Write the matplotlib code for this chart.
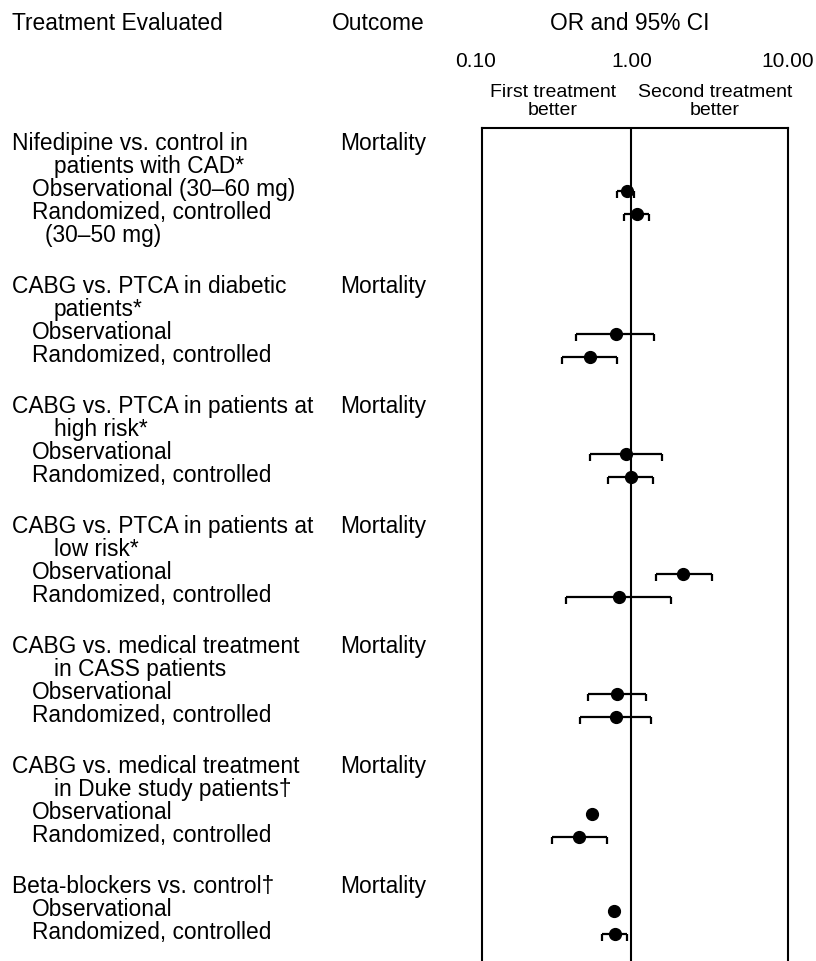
import matplotlib
matplotlib.use('Agg')
import matplotlib.pyplot as plt
import matplotlib.transforms as mtransforms
import numpy as np

plt.rcParams['font.family'] = ['Liberation Sans', 'DejaVu Sans']

# --- data ---
titles = [
    ['Nifedipine vs. control in', 'patients with CAD*'],
    ['CABG vs. PTCA in diabetic', 'patients*'],
    ['CABG vs. PTCA in patients at', 'high risk*'],
    ['CABG vs. PTCA in patients at', 'low risk*'],
    ['CABG vs. medical treatment', 'in CASS patients'],
    ['CABG vs. medical treatment', 'in Duke study patients\u2020'],
    ['Beta-blockers vs. control\u2020'],
]
outcomes = ['Mortality'] * 7
obs_labels = ['Observational (30\u201360 mg)'] + ['Observational'] * 6
rct_labels = [['Randomized, controlled', '(30\u201350 mg)']] + [['Randomized, controlled']] * 6

nan = np.nan
obs_or = [0.94, 0.79, 0.92, 2.15, 0.81, 0.56, 0.77]
obs_lo = [0.81, 0.44, 0.54, 1.43, 0.53, nan, nan]
obs_hi = [1.04, 1.40, 1.56, 3.30, 1.23, nan, nan]
rct_or = [1.08, 0.54, 0.99, 0.83, 0.79, 0.46, 0.78]
rct_lo = [0.90, 0.36, 0.71, 0.38, 0.47, 0.31, 0.65]
rct_hi = [1.29, 0.81, 1.38, 1.80, 1.34, 0.70, 0.93]

tick_vals = [0.1, 1.0, 10.0]
tick_text = ['0.10', '1.00', '10.00']

# --- layout ---
W, H = 816, 961
fig = plt.figure(figsize=(W / 100, H / 100), dpi=100)
bg = fig.add_axes([0, 0, 1, 1])
bg.set_xlim(0, W)
bg.set_ylim(H, 0)
bg.axis('off')

ax = fig.add_axes([482 / W, 0, (788 - 482) / W, (H - 128) / H])
ax.set_xscale('log')
ax.set_xlim(10 ** -0.958, 10 ** 1.003)
ax.set_ylim(H, 128)
ax.patch.set_alpha(0)
ax.set_xticks([])
ax.set_yticks([])
ax.minorticks_off()
ax.tick_params(which='both', length=0, labelbottom=False, labelleft=False)
ax.spines['bottom'].set_visible(False)
for s in ['left', 'right', 'top']:
    ax.spines[s].set_linewidth(1.5)
ax.axvline(1.0, color='black', lw=1.5)

fs = 16.4
LH = 23
GAP = 28
x_head, x_cont, x_sub, x_sub2 = 12, 54, 32, 45
x_out = 340

y = 150
obs_y, rct_y = [], []
for i in range(len(titles)):
    for j, t in enumerate(titles[i]):
        bg.text(x_head if j == 0 else x_cont, y, t, fontsize=fs, va='baseline')
        if j == 0:
            bg.text(x_out, y, outcomes[i], fontsize=fs, va='baseline')
        y += LH
    bg.text(x_sub, y, obs_labels[i], fontsize=fs, va='baseline')
    obs_y.append(y - 5)
    y += LH
    for j, t in enumerate(rct_labels[i]):
        bg.text(x_sub if j == 0 else x_sub2, y, t, fontsize=fs, va='baseline')
        if j == 0:
            rct_y.append(y - 5)
        y += LH
    y += GAP

# headers
bg.text(12, 30, 'Treatment Evaluated', fontsize=fs, va='baseline')
bg.text(332, 30, 'Outcome', fontsize=fs, va='baseline')
bg.text(630, 30, 'OR and 95% CI', fontsize=fs, va='baseline', ha='center')
mix = mtransforms.blended_transform_factory(ax.transData, bg.transData)
for v, t in zip(tick_vals, tick_text):
    bg.text(v, 67, t, fontsize=15, va='baseline', ha='center', transform=mix)
for xc, t in [(553, 'First treatment'), (715, 'Second treatment')]:
    bg.text(xc, 97, t, fontsize=14, va='baseline', ha='center')
    bg.text(xc, 115, 'better', fontsize=14, va='baseline', ha='center')

# estimates with CIs (caps point downward)
cap = 7
for ors, los, his, ys in [(obs_or, obs_lo, obs_hi, obs_y), (rct_or, rct_lo, rct_hi, rct_y)]:
    for o, lo, hi, yy in zip(ors, los, his, ys):
        if not np.isnan(lo):
            ax.hlines(yy, lo, hi, color='black', lw=1.6)
            ax.vlines([lo, hi], yy, yy + cap, color='black', lw=1.6)
        ax.plot(o, yy, 'o', color='black', ms=8.5, zorder=3)

fig.savefig('out.png', dpi=100)
